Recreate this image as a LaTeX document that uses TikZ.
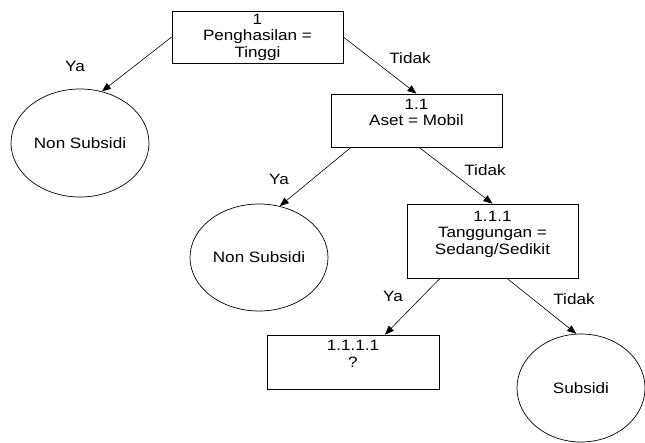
\documentclass[tikz,border=0pt]{standalone}
\usepackage{fontspec}
\setmainfont{Liberation Sans}[FakeStretch=1.14]
\usetikzlibrary{shapes.geometric,arrows.meta,calc}

\begin{document}
\begin{tikzpicture}[x=1pt,y=-1pt,
  every node/.style={font=\fontsize{15}{16.5}\selectfont},
  decision/.style={draw, line width=0.7pt, rectangle, align=center,
    minimum width=171pt, inner sep=0pt},
  leaf/.style={draw, line width=0.7pt, ellipse, inner sep=0pt},
  branch/.style={line width=0.6pt, -{Triangle[length=9pt,width=7pt]}},
  answer/.style={inner sep=0pt}
]
\useasboundingbox (0,0) rectangle (645,442);

% decision boxes
\node[decision, minimum height=52pt] (b1) at (257.5,37) {1\\Penghasilan =\\Tinggi};
\node[decision, minimum height=53pt] (b11) at (416.5,120.5) {1.1\\Aset = Mobil\\\mbox{}};
\node[decision, minimum height=74pt] (b111) at (492.5,241) {1.1.1\\Tanggungan =\\Sedang/Sedikit\\\mbox{}};
\node[decision, minimum width=172pt, minimum height=54pt] (b1111) at (353,362) {1.1.1.1\\?\\\mbox{}};

% leaves
\node[leaf, minimum width=138pt, minimum height=108pt] (c1) at (80,143) {Non Subsidi};
\node[leaf, minimum width=138pt, minimum height=107pt] (c2) at (259,257.5) {Non Subsidi};
\node[leaf, minimum width=128pt, minimum height=108pt] (c3) at (581,388) {Subsidi};

% branches
\draw[branch] (b1.west) -- (c1.67);
\draw[branch] (b1.east) -- (b11.north);
\draw[branch] ($(b11.south)+(-65.5,0)$) -- (c2.68);
\draw[branch] ($(b11.south)+(2.5,0)$) -- (b111.north);
\draw[branch] ($(b111.south)+(-52.5,0)$) -- ($(b1111.north)+(32,0)$);
\draw[branch] ($(b111.south)+(14.5,0)$) -- (c3.95);

% branch answers
\node[answer] (y1) at (75,66) {Ya};
\node[answer] (t1) at (410,58) {Tidak};
\node[answer] (y2) at (279,179) {Ya};
\node[answer] (t2) at (485,170) {Tidak};
\node[answer] (y3) at (393,296) {Ya};
\node[answer] (t3) at (574,299) {Tidak};
\end{tikzpicture}
\end{document}
